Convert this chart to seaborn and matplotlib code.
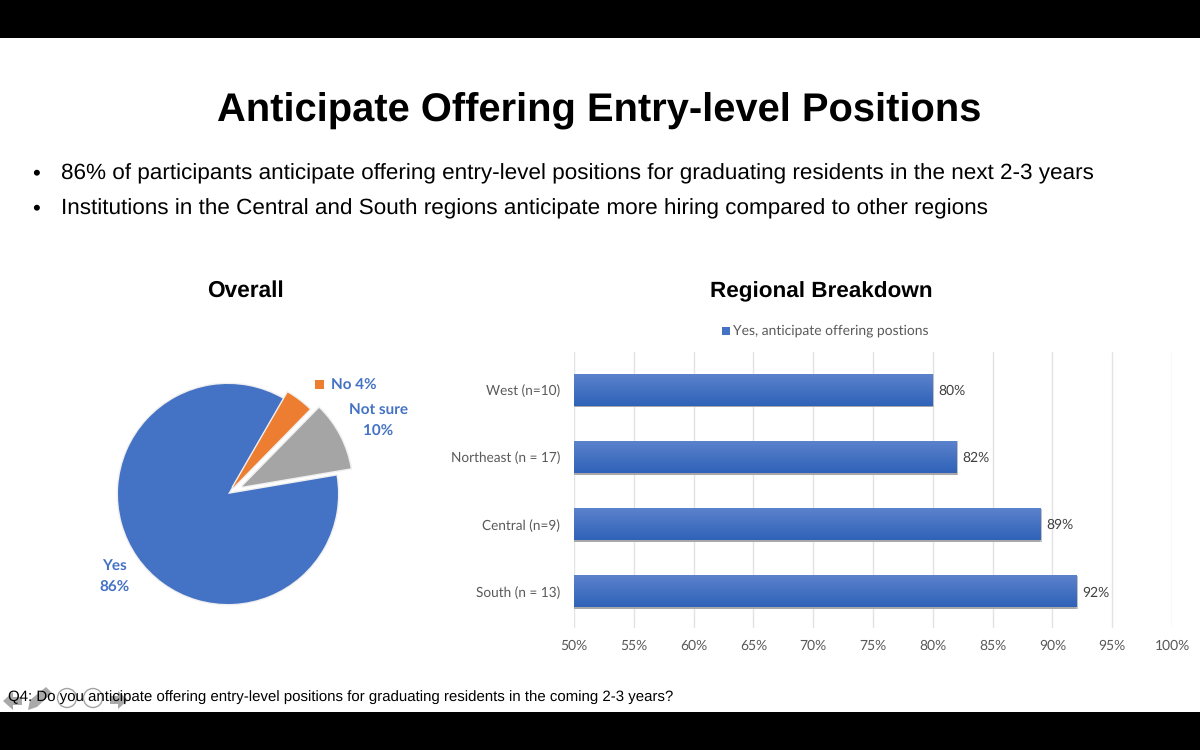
import matplotlib
matplotlib.use("Agg")
import matplotlib.pyplot as plt
import matplotlib.patches as mpatches
import matplotlib.patheffects as pe
import numpy as np
import pandas as pd
import seaborn as sns

# -----------------------------
# Data
# -----------------------------
pie_labels = ["Yes", "Not sure", "No"]
pie_values = [86, 10, 4]
pie_colors = ["#4472C4", "#A5A5A5", "#ED7D31"]
pie_explode = [0, 0.145, 0.07]

regions = ["West (n=10)", "Northeast (n = 17)", "Central (n=9)", "South (n = 13)"]
yes_pct = [80, 82, 89, 92]
x_ticks = [50, 55, 60, 65, 70, 75, 80, 85, 90, 95, 100]

title = "Anticipate Offering Entry-level Positions"
bullets = [
    "86% of participants anticipate offering entry-level positions for graduating residents in the next 2-3 years",
    "Institutions in the Central and South regions anticipate more hiring compared to other regions",
]
footnote = "Q4: Do you anticipate offering entry-level positions for graduating residents in the coming 2-3 years?"
legend_label = "Yes, anticipate offering postions"

W, H = 1200, 750
sns.set_theme(style="white")
plt.rcParams["font.family"] = ["Liberation Sans", "DejaVu Sans"]
plt.rcParams["text.hinting"] = "no_hinting"

fig = plt.figure(figsize=(W / 100, H / 100), dpi=100, facecolor="white")


def px_axes(left, top, right, bottom):
    return fig.add_axes([left / W, 1 - bottom / H, (right - left) / W, (bottom - top) / H])


# -----------------------------
# Slide overlay in pixel coords
# -----------------------------
slide = px_axes(0, 0, W, H)
slide.set_xlim(0, W)
slide.set_ylim(H, 0)
slide.axis("off")
slide.set_zorder(5)
slide.patch.set_alpha(0)

slide.axhspan(0, 38, color="black", lw=0)
slide.axhspan(712, 750, color="black", lw=0)
slide.text(599, 111, title, ha="center", va="center", fontsize=28.7, fontweight="bold", color="black")

for y, line in zip([173.5, 208.5], bullets):
    slide.text(32, y, "•", ha="left", va="center", fontsize=16, color="black")
    slide.text(61, y, line, ha="left", va="center", fontsize=16.2, color="black")

slide.text(245, 291, "Overall", ha="center", va="center", fontsize=16.3, fontweight="bold", color="black")
slide.text(821.5, 292, "Regional Breakdown", ha="center", va="center", fontsize=16.2, fontweight="bold", color="black")
slide.text(8, 697, footnote, ha="left", va="center", fontsize=10.77, color="black")

# slideshow controls on top of the footnote
grey = "#8c8c8c"
slide.add_patch(mpatches.Polygon([[3, 701], [13, 692], [13, 697], [22, 697], [22, 705], [13, 705], [13, 710]],
                                 color=grey, alpha=0.75, lw=0))
slide.add_patch(mpatches.Polygon([[28, 710], [30, 700], [46, 687], [52, 693], [37, 707]],
                                 color=grey, alpha=0.75, lw=0))
slide.add_patch(mpatches.Polygon([[128, 700], [118, 691], [118, 696], [110, 696], [110, 704], [118, 704], [118, 709]],
                                 color=grey, alpha=0.75, lw=0))
for cx in [67, 93]:
    slide.add_patch(mpatches.Circle((cx, 698), 9.5, fill=False, ec=grey, lw=1.0, alpha=0.8))

# -----------------------------
# Pie
# -----------------------------
pie_ax = px_axes(88, 354, 368, 634)
wedges, _ = pie_ax.pie(pie_values, colors=pie_colors, explode=pie_explode, startangle=60, counterclock=True,
                       radius=1.0, wedgeprops={"lw": 0})
for w in wedges:
    w.set_path_effects([pe.withStroke(linewidth=2, foreground="#efefef")])
pie_ax.set_xlim(-140 / 110, 140 / 110)
pie_ax.set_ylim(-140 / 110, 140 / 110)

label_style = dict(ha="center", va="center", fontsize=11, fontweight="bold", color="#4472C4", family="Lato")
slide.text(114.5, 577, "Yes\n86%", linespacing=1.75, **label_style)
slide.text(378.5, 421, "Not sure\n10%", linespacing=1.75, **label_style)
slide.text(353.5, 386, "No 4%", **label_style)
slide.add_patch(mpatches.Rectangle((315, 380), 9, 9, color="#ED7D31", lw=0))

# -----------------------------
# Bars
# -----------------------------
df = pd.DataFrame({"region": regions, "pct": yes_pct})
bar_ax = px_axes(574, 352, 1172, 628)
sns.barplot(data=df, x="pct", y="region", orient="h", color="#4472C4", width=0.47, ax=bar_ax, saturation=1)

# Office style gradient + soft shadow on each bar
gradient = np.linspace(0, 1, 64).reshape(-1, 1)
cmap = matplotlib.colors.LinearSegmentedColormap.from_list("bar", ["#5B82CC", "#2F62B8"])
for bar in list(bar_ax.patches):
    x0, y0, w, h = bar.get_x(), bar.get_y(), bar.get_width(), bar.get_height()
    bar_ax.imshow(gradient, cmap=cmap, aspect="auto", zorder=3,
                  extent=[50, x0 + w, y0 + h, y0])
    bar_ax.add_patch(mpatches.Rectangle((50, y0 + h), x0 + w - 50, 0.025, color="#a8a8a8", lw=0, zorder=2))
    bar_ax.add_patch(mpatches.Rectangle((x0 + w, y0), 0.12, h + 0.025, color="#c0c0c0", lw=0, zorder=2))
    bar_ax.text(x0 + w + 0.5, y0 + h / 2 + 0.015, f"{w:.0f}%", va="center", ha="left",
                fontsize=10, color="#404040", family="Lato")

bar_ax.set_xlim(50, 100)
bar_ax.set_ylim(3.54, -0.56)
bar_ax.set_xticks(x_ticks)
bar_ax.set_xticklabels([f"{t}%" for t in x_ticks], fontsize=10, color="#595959", family="Lato")
bar_ax.set_yticks(range(len(regions)))
bar_ax.set_yticklabels(regions, fontsize=9.8, color="#595959", family="Lato")
bar_ax.set_xlabel("")
bar_ax.set_ylabel("")
bar_ax.tick_params(axis="x", length=0, pad=8)
bar_ax.tick_params(axis="y", length=0, pad=10)
bar_ax.grid(axis="x", color="#e3e3e3", lw=1)
bar_ax.set_axisbelow(True)
sns.despine(ax=bar_ax, left=True, bottom=True)

slide.add_patch(mpatches.Rectangle((722, 327), 8, 8, color="#4472C4", lw=0))
slide.text(733, 331, legend_label, ha="left", va="center", fontsize=10, color="#595959", family="Lato")

fig.savefig("out.png", dpi=100)
